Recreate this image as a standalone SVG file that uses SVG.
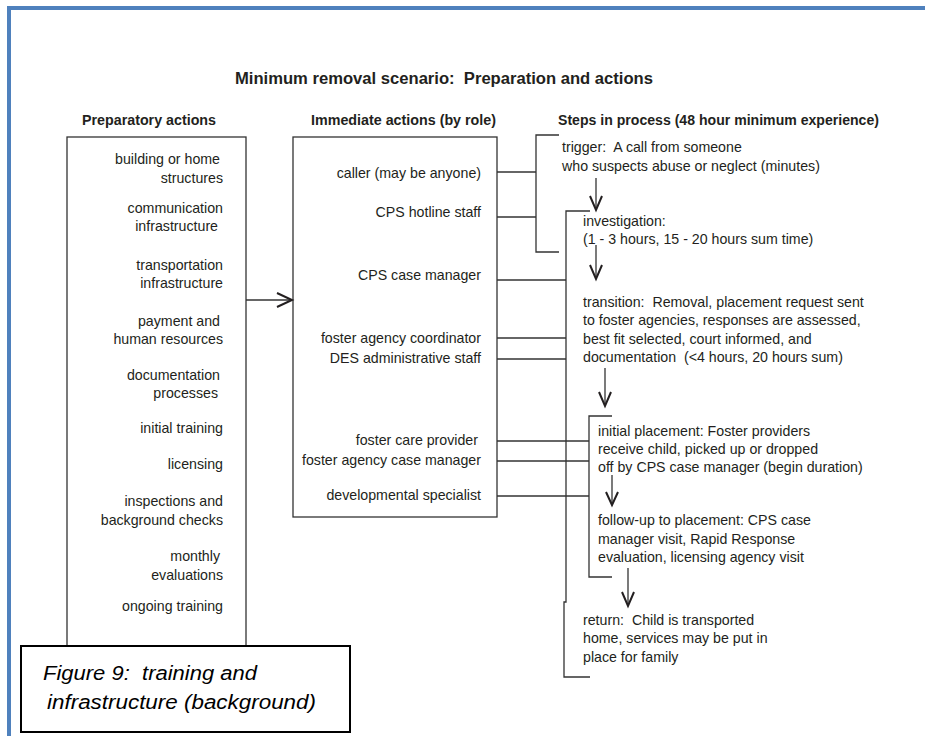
<svg xmlns="http://www.w3.org/2000/svg" width="925" height="736" viewBox="0 0 925 736">
  <style>
    text { white-space: pre; }
    .t { font-family: "Liberation Sans", Arial, sans-serif; font-size: 14.2px; fill: #231f20; }
    .r { text-anchor: end; }
    .h { font-family: "Liberation Sans", Arial, sans-serif; font-weight: bold; fill: #231f20; }
    .box { fill: #ffffff; stroke: #333333; stroke-width: 1.3; }
    .ln { fill: none; stroke: #333333; stroke-width: 1.3; }
    .arr { fill: none; stroke: #231f20; stroke-width: 2; stroke-linejoin: miter; }
    .cap { font-family: "Liberation Sans", Arial, sans-serif; font-style: italic; font-size: 20px; fill: #000000; }
  </style>

  <rect x="0" y="0" width="925" height="736" fill="#ffffff"/>
  <!-- page frame -->
  <path d="M9,736 V8 H925" fill="none" stroke="#4f81bd" stroke-width="4"/>

  <!-- headings -->
  <g id="headings">
    <text class="h" x="235" y="84" font-size="16" textLength="418" lengthAdjust="spacingAndGlyphs">Minimum removal scenario:  Preparation and actions</text>
    <text class="h" x="82" y="125" font-size="14" textLength="134" lengthAdjust="spacingAndGlyphs">Preparatory actions</text>
    <text class="h" x="311" y="125" font-size="14" textLength="185" lengthAdjust="spacingAndGlyphs">Immediate actions (by role)</text>
    <text class="h" x="558" y="125" font-size="14" textLength="321" lengthAdjust="spacingAndGlyphs">Steps in process (48 hour minimum experience)</text>
  </g>

  <!-- preparatory actions -->
  <g id="preparatory">
    <rect class="box" x="67" y="137" width="179" height="520"/>
    <text class="t r" x="220" y="164">building or home</text>
    <text class="t r" x="223" y="183">structures</text>
    <text class="t r" x="223" y="213">communication</text>
    <text class="t r" x="218" y="231">infrastructure</text>
    <text class="t r" x="223" y="270">transportation</text>
    <text class="t r" x="223" y="288">infrastructure</text>
    <text class="t r" x="220" y="326">payment and</text>
    <text class="t r" x="223" y="344">human resources</text>
    <text class="t r" x="220" y="380">documentation</text>
    <text class="t r" x="218" y="398">processes</text>
    <text class="t r" x="223" y="433">initial training</text>
    <text class="t r" x="223" y="469">licensing</text>
    <text class="t r" x="223" y="506">inspections and</text>
    <text class="t r" x="223" y="525">background checks</text>
    <text class="t r" x="220" y="561">monthly</text>
    <text class="t r" x="223" y="580">evaluations</text>
    <text class="t r" x="223" y="611">ongoing training</text>
  </g>

  <!-- roles -->
  <g id="roles">
    <rect class="box" x="293" y="137" width="204" height="380"/>
    <text class="t r" x="481" y="178">caller (may be anyone)</text>
    <text class="t r" x="481" y="217">CPS hotline staff</text>
    <text class="t r" x="481" y="280">CPS case manager</text>
    <text class="t r" x="481" y="343">foster agency coordinator</text>
    <text class="t r" x="481" y="363">DES administrative staff</text>
    <text class="t r" x="478" y="445">foster care provider</text>
    <text class="t r" x="481" y="465">foster agency case manager</text>
    <text class="t r" x="481" y="500">developmental specialist</text>
  </g>

  <!-- process steps -->
  <g id="step-trigger">
    <text class="t" x="562" y="152">trigger:  A call from someone</text>
    <text class="t" x="562" y="171">who suspects abuse or neglect (minutes)</text>
  </g>
  <g id="step-investigation">
    <text class="t" x="583" y="226">investigation:</text>
    <text class="t" x="583" y="244">(1 - 3 hours, 15 - 20 hours sum time)</text>
  </g>
  <g id="step-transition">
    <text class="t" x="583" y="307">transition:  Removal, placement request sent</text>
    <text class="t" x="583" y="325">to foster agencies, responses are assessed,</text>
    <text class="t" x="583" y="344">best fit selected, court informed, and</text>
    <text class="t" x="583" y="362">documentation  (&lt;4 hours, 20 hours sum)</text>
  </g>
  <g id="step-placement">
    <text class="t" x="598" y="436">initial placement: Foster providers</text>
    <text class="t" x="598" y="454">receive child, picked up or dropped</text>
    <text class="t" x="598" y="472">off by CPS case manager (begin duration)</text>
  </g>
  <g id="step-followup">
    <text class="t" x="598" y="525">follow-up to placement: CPS case</text>
    <text class="t" x="598" y="544">manager visit, Rapid Response</text>
    <text class="t" x="598" y="562">evaluation, licensing agency visit</text>
  </g>
  <g id="step-return">
    <text class="t" x="583" y="625">return:  Child is transported</text>
    <text class="t" x="583" y="643">home, services may be put in</text>
    <text class="t" x="583" y="662">place for family</text>
  </g>

  <!-- connectors -->
  <g id="connectors">
    <!-- preparatory to roles -->
    <path class="ln" d="M246,300 H292"/>
    <path class="arr" d="M277,293 L292,300 L277,307"/>

    <!-- bracket: trigger / investigation -->
    <path class="ln" d="M559,135 H536 V252 H559"/>
    <path class="ln" d="M497,172 H536"/>
    <path class="ln" d="M497,217 H536"/>

    <!-- bracket: investigation through return -->
    <path class="ln" d="M590,211 H566 V602 H564 V677 H590"/>
    <path class="ln" d="M497,280 H566"/>
    <path class="ln" d="M497,338 H566"/>
    <path class="ln" d="M497,359 H566"/>

    <!-- bracket: placement / follow-up -->
    <path class="ln" d="M612,416 H589 V577 H612"/>
    <path class="ln" d="M497,441 H589"/>
    <path class="ln" d="M497,461 H589"/>
    <path class="ln" d="M497,496 H589"/>

    <!-- step arrows -->
    <path class="ln" d="M596,178 V208"/>
    <path class="arr" d="M590,196 L596,210 L602,196"/>
    <path class="ln" d="M596,245 V276"/>
    <path class="arr" d="M590,265 L596,279 L602,265"/>
    <path class="ln" d="M605,368 V404"/>
    <path class="arr" d="M599,392 L605,406 L611,392"/>
    <path class="ln" d="M612,475 V503"/>
    <path class="arr" d="M606,492 L612,505 L618,492"/>
    <path class="ln" d="M628,568 V604"/>
    <path class="arr" d="M622,592 L628,606 L634,592"/>
  </g>

  <!-- caption -->
  <g id="caption">
    <rect x="21" y="646" width="329" height="86" fill="#ffffff" stroke="#000000" stroke-width="2"/>
    <text class="cap" x="43" y="680" textLength="214" lengthAdjust="spacingAndGlyphs">Figure 9:  training and</text>
    <text class="cap" x="47" y="709" textLength="269" lengthAdjust="spacingAndGlyphs">infrastructure (background)</text>
  </g>
</svg>
